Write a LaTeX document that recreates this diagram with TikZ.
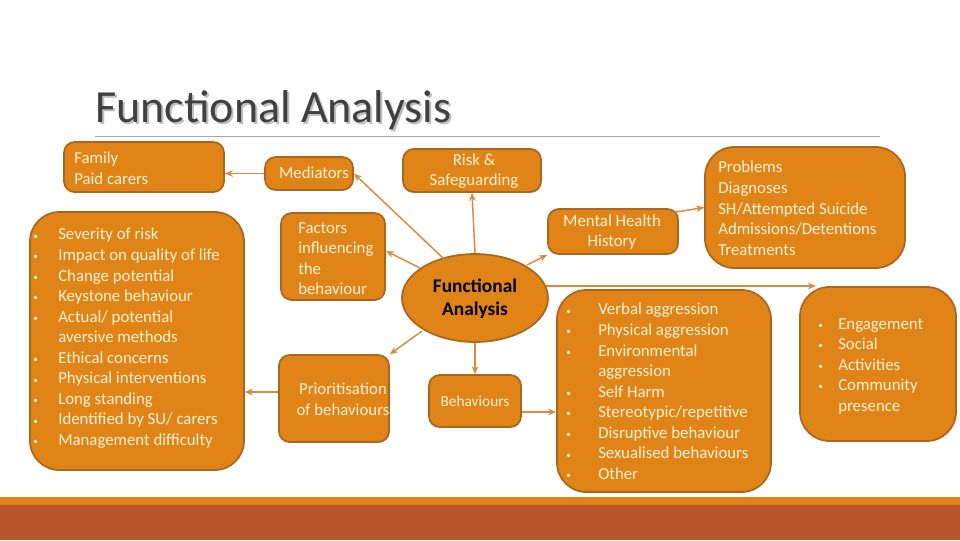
\documentclass[tikz,border=0pt]{standalone}
\usepackage{fontspec}
\setmainfont{Carlito}
\usetikzlibrary{shapes.geometric,fit,arrows.meta}
\definecolor{boxfill}{HTML}{E08418}
\definecolor{boxline}{HTML}{A8661E}
\definecolor{arr}{HTML}{D98A3A}
\definecolor{txt}{HTML}{FFF3D6}
\definecolor{rust}{HTML}{B8552B}
\definecolor{title}{HTML}{404040}
\newcommand\bul{\raisebox{0.5pt}{\fontsize{7}{7}\selectfont•}}
\begin{document}
\begin{tikzpicture}[x=0.75pt,y=-0.75pt,
  box/.style={draw=boxline,fill=boxfill,line width=1.3pt,rounded corners=8pt,inner sep=0pt},
  bigbox/.style={box,rounded corners=22pt},
  tx/.style={text=txt,inner sep=0pt,font=\fontsize{12.6}{15.4}\selectfont},
  conn/.style={draw=arr,line width=1.1pt,-{Stealth[length=6pt,width=5pt]}}]
\useasboundingbox (0,0) rectangle (960,540);
\fill[white] (0,0) rectangle (960,540);
% bottom bars
\fill[boxfill] (0,497) rectangle (960,505);
\fill[rust] (0,505) rectangle (960,540);
% title
\node[anchor=base west,inner sep=0,text=gray!50,font=\fontsize{34.5}{36}\selectfont] (tsh) at (97,124) {Functional Analysis};
\node[anchor=base west,inner sep=0,text=title,font=\fontsize{34.5}{36}\selectfont] (ttl) at (95,122) {Functional Analysis};
\draw[gray!70,line width=0.6pt] (95,136) coordinate (l1) -- (880,136) coordinate (l2);
% boxes
\node[box,fit={(64,142)(224,192)}] (fam) {};
\node[bigbox,fit={(30,212)(244,470)}] (left) {};
\node[box,fit={(265,157)(353,190)}] (med) {};
\node[box,fit={(281,213)(385,300)}] (fac) {};
\node[box,fit={(279,355)(389,442)}] (pri) {};
\node[box,fit={(403,149)(541,192)}] (risk) {};
\node[box,fit={(429,375)(521,427)}] (beh) {};
\node[box,fit={(548,209)(678,254)}] (mh) {};
\node[bigbox,fit={(705,147)(905,268)}] (prob) {};
\node[bigbox,fit={(557,290)(771,492)}] (blist) {};
\node[bigbox,fit={(800,287)(956,441)}] (eng) {};
\node[box,ellipse,rounded corners=0pt,minimum width=146*0.75pt,minimum height=88*0.75pt] (fa) at (475,298) {};
% texts
\node[tx,align=left,anchor=north west] (famt) at (74,152) {Family\\Paid carers};
\node[tx] (medt) at (314,173) {Mediators};
\node[tx,align=left,anchor=north west] (fact) at (298,222) {Factors\\influencing\\the\\behaviour};
\node[tx,align=center] (prit) at (343,399) {Prioritisation\\of behaviours};
\node[tx,align=center] (riskt) at (474,171) {Risk \&\\Safeguarding};
\node[tx,font=\fontsize{11.5}{13}\selectfont] (beht) at (475,401) {Behaviours};
\node[tx,align=center] (mht) at (612,232) {Mental Health\\History};
\node[tx,align=left,anchor=north west] (probt) at (718,161) {Problems\\Diagnoses\\SH/Attempted Suicide\\Admissions/Detentions\\Treatments};
\node[inner sep=0pt,align=center,font=\bfseries\fontsize{14.5}{17.5}\selectfont] (fat) at (475,299) {Functional\\Analysis};
\node[tx,align=left,anchor=north west] (leftt) at (33,228) {%
\makebox[18.75pt][l]{\bul}Severity of risk\\
\makebox[18.75pt][l]{\bul}Impact on quality of life\\
\makebox[18.75pt][l]{\bul}Change potential\\
\makebox[18.75pt][l]{\bul}Keystone behaviour\\
\makebox[18.75pt][l]{\bul}Actual/ potential\\
\hspace*{18.75pt}aversive methods\\
\makebox[18.75pt][l]{\bul}Ethical concerns\\
\makebox[18.75pt][l]{\bul}Physical interventions\\
\makebox[18.75pt][l]{\bul}Long standing\\
\makebox[18.75pt][l]{\bul}Identified by SU/ carers\\
\makebox[18.75pt][l]{\bul}Management difficulty};
\node[tx,align=left,anchor=north west] (blt) at (566,303) {%
\makebox[24pt][l]{\bul}Verbal aggression\\
\makebox[24pt][l]{\bul}Physical aggression\\
\makebox[24pt][l]{\bul}Environmental\\
\hspace*{24pt}aggression\\
\makebox[24pt][l]{\bul}Self Harm\\
\makebox[24pt][l]{\bul}Stereotypic/repetitive\\
\makebox[24pt][l]{\bul}Disruptive behaviour\\
\makebox[24pt][l]{\bul}Sexualised behaviours\\
\makebox[24pt][l]{\bul}Other};
\node[tx,align=left,anchor=north west] (engt) at (818,318) {%
\makebox[15pt][l]{\bul}Engagement\\
\makebox[15pt][l]{\bul}Social\\
\makebox[15pt][l]{\bul}Activities\\
\makebox[15pt][l]{\bul}Community\\
\hspace*{15pt}presence};
% connectors
\draw[conn] (med.west) -- (fam.east |- med.west);
\coordinate (c1) at (444,259);
\draw[conn] (c1) -- (med.east);
\coordinate (c2) at (420,268);
\draw[conn] (c2) -- (386,251);
\draw[conn] (fa.north) -- (risk.south);
\coordinate (c3) at (527,265);
\draw[conn] (c3) -- (mh.south west);
\coordinate (c4) at (676,212);
\draw[conn] (c4) -- (prob.west);
\coordinate (c5) at (422,331);
\draw[conn] (c5) -- (pri.north east);
\draw[conn] (fa.south) -- (beh.north);
\draw[conn] (beh.east |- 0,412) -- (blist.west |- 0,412);
\draw[conn] (pri.west |- 0,392) -- (left.east |- 0,392);
\coordinate (c6) at (546,286);
\coordinate (c7) at (816,286);
\draw[conn] (c6) -- (c7);
\end{tikzpicture}
\end{document}
